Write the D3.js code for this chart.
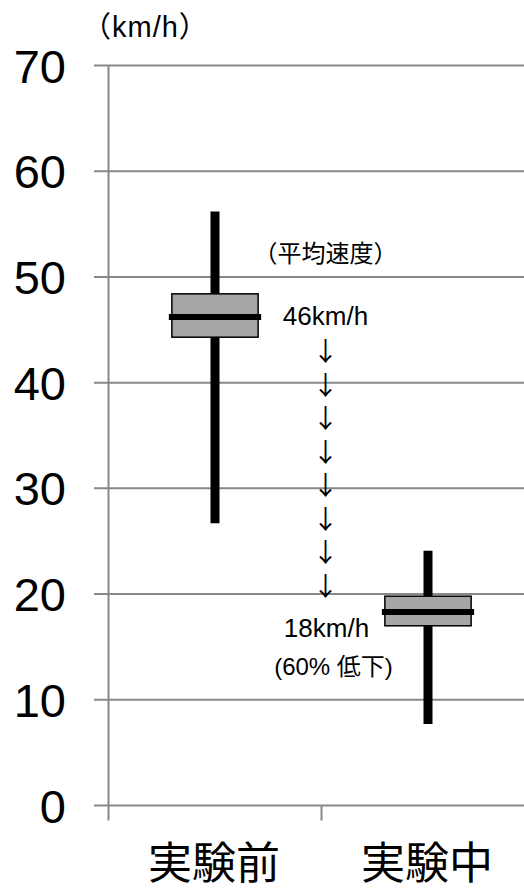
<!DOCTYPE html>
<html>
<head>
<meta charset="utf-8">
<script src="https://cdn.jsdelivr.net/npm/d3@7"></script>
<style>
  body { margin: 0; background: #fff; }
  text { font-family: "Liberation Sans", Arial, "Noto Sans CJK JP", sans-serif; fill: #000; }
  .cjk { font-family: "Liberation Sans", "Noto Sans CJK JP", sans-serif; }
  .arrow { font-family: "Noto Sans CJK JP", sans-serif; }
</style>
</head>
<body>
<div id="chart"></div>
<script>
const categories = ["実験前", "実験中"];
const whiskerLow = [26.7, 7.7];
const q1 = [44.3, 17.0];
const median = [46.2, 18.3];
const q3 = [48.4, 19.8];
const whiskerHigh = [56.2, 24.1];
const yTicks = [0, 10, 20, 30, 40, 50, 60, 70];
const unitLabel = "（km/h）";
const noteTitle = "（平均速度）";
const noteFrom = "46km/h";
const noteTo = "18km/h";
const noteDrop = "(60% 低下)";
const arrowCount = 8;

const W = 524, H = 890;
const svg = d3.select("#chart").append("svg")
  .attr("width", W)
  .attr("height", H);

const y = d3.scaleLinear().domain([0, 70]).range([805.5, 65.5]);
const x = d3.scaleBand().domain(categories).range([108.5, 534.5]).padding(0);

const grid = "#888888";

// gridlines (also serve as left ticks)
svg.append("g").selectAll("line")
  .data(yTicks)
  .join("line")
  .attr("x1", 94).attr("x2", W)
  .attr("y1", d => y(d)).attr("y2", d => y(d))
  .attr("stroke", grid).attr("stroke-width", 2);

// y axis line
svg.append("line")
  .attr("x1", x.range()[0]).attr("x2", x.range()[0])
  .attr("y1", y(70)).attr("y2", y(0) + 15)
  .attr("stroke", grid).attr("stroke-width", 2);

// bottom tick between categories
svg.append("line")
  .attr("x1", x(categories[1])).attr("x2", x(categories[1]))
  .attr("y1", y(0)).attr("y2", y(0) + 15)
  .attr("stroke", grid).attr("stroke-width", 2);

// y tick labels
svg.append("g").selectAll("text")
  .data(yTicks)
  .join("text")
  .attr("x", 66)
  .attr("y", d => y(d) + 17)
  .attr("text-anchor", "end")
  .attr("font-size", 47)
  .text(d => d);

svg.append("text")
  .attr("x", 82).attr("y", 37)
  .attr("class", "cjk")
  .attr("font-size", 29)
  .attr("letter-spacing", 1)
  .text(unitLabel);

// category labels
svg.append("g").selectAll("text")
  .data(categories)
  .join("text")
  .attr("class", "cjk")
  .attr("x", d => x(d) + x.bandwidth() / 2 - 1)
  .attr("y", 879)
  .attr("text-anchor", "middle")
  .attr("font-size", 44)
  .text(d => d);

// boxes
const boxW = x.bandwidth() * 0.405;
const boxes = svg.append("g").selectAll("g")
  .data(categories.map((c, i) => ({ c, lo: whiskerLow[i], q1: q1[i], med: median[i], q3: q3[i], hi: whiskerHigh[i] })))
  .join("g")
  .attr("transform", d => `translate(${x(d.c) + x.bandwidth() / 2},0)`);

boxes.append("line")
  .attr("x1", 0).attr("x2", 0)
  .attr("y1", d => y(d.hi)).attr("y2", d => y(d.lo))
  .attr("stroke", "#000").attr("stroke-width", 9);

boxes.append("rect")
  .attr("x", -boxW / 2).attr("width", boxW)
  .attr("y", d => y(d.q3))
  .attr("height", d => y(d.q1) - y(d.q3))
  .attr("fill", "#a6a6a6")
  .attr("stroke", "#000").attr("stroke-width", 1.5);

boxes.append("line")
  .attr("x1", -boxW / 2 - 3).attr("x2", boxW / 2 + 3)
  .attr("y1", d => y(d.med)).attr("y2", d => y(d.med))
  .attr("stroke", "#000").attr("stroke-width", 6);

// annotation
const ax = x(categories[1]) + 4;
svg.append("text").attr("class", "cjk")
  .attr("x", ax).attr("y", y(51.4))
  .attr("text-anchor", "middle").attr("font-size", 24)
  .text(noteTitle);
svg.append("text")
  .attr("x", ax).attr("y", y(45.5))
  .attr("text-anchor", "middle").attr("font-size", 26)
  .text(noteFrom);

const arrowTop = y(44.0), arrowStep = 33.5;
svg.append("g").selectAll("text")
  .data(d3.range(arrowCount))
  .join("text")
  .attr("class", "arrow")
  .attr("x", ax).attr("y", i => arrowTop + i * arrowStep + 21)
  .attr("text-anchor", "middle").attr("font-size", 26)
  .text("↓");

svg.append("text")
  .attr("x", ax + 1).attr("y", y(15.95))
  .attr("text-anchor", "middle").attr("font-size", 26)
  .text(noteTo);
svg.append("text").attr("class", "cjk")
  .attr("x", ax + 8).attr("y", y(12.3))
  .attr("text-anchor", "middle").attr("font-size", 24)
  .text(noteDrop);
</script>
</body>
</html>
